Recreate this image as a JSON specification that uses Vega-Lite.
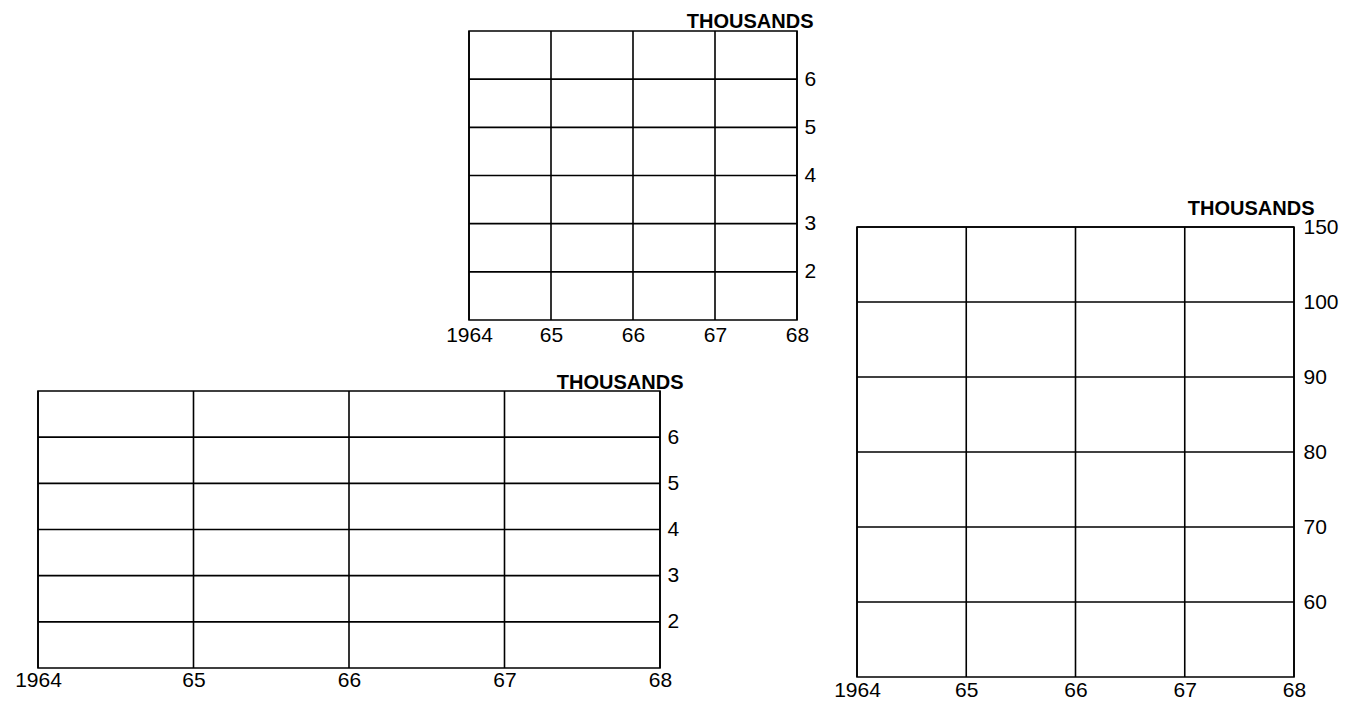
{
  "$schema": "https://vega.github.io/schema/vega-lite/v6.json",
  "background": "white",
  "padding": {"left": 13, "top": 10, "right": 5, "bottom": 0},
  "datasets": {
    "years": [{"year": 1964}, {"year": 1965}, {"year": 1966}, {"year": 1967}, {"year": 1968}],
    "small": [{"value": 2}, {"value": 3}, {"value": 4}, {"value": 5}, {"value": 6}],
    "large": [{"value": 60}, {"value": 70}, {"value": 80}, {"value": 90}, {"value": 100}, {"value": 150}]
  },
  "config": {
    "font": "Liberation Sans",
    "view": {"stroke": null},
    "axis": {"labelColor": "black", "titleColor": "black", "labelFontSize": 21, "labelFont": "Liberation Sans", "titleFont": "Liberation Sans", "labelFlush": false, "labelOverlap": false}
  },
  "spacing": 15,
  "hconcat": [
    {
      "spacing": 1,
      "vconcat": [
        {
          "spacing": 0,
          "hconcat": [
            {"width": 406, "height": 339, "data": {"values": []}, "mark": "point"},
            {
              "width": 328,
              "height": 289,
              "view": {"stroke": "black", "strokeWidth": 1.6},
              "layer": [
                {
                  "data": {"name": "years"},
                  "mark": {"type": "rule", "color": "black", "strokeWidth": 1.6},
                  "encoding": {
                    "x": {"field": "year", "type": "quantitative", "scale": {"domain": [1964, 1968], "nice": false, "zero": false},
                      "axis": {"values": [1964, 1965, 1966, 1967, 1968], "grid": false, "domain": false, "ticks": false, "labelPadding": 4, "title": null,
                        "labelExpr": "datum.value == 1964 ? '1964' : format(datum.value - 1900, 'd')"}}
                  }
                },
                {
                  "data": {"name": "small"},
                  "mark": {"type": "rule", "color": "black", "strokeWidth": 1.6},
                  "encoding": {
                    "y": {"field": "value", "type": "quantitative", "scale": {"domain": [1, 7], "nice": false, "zero": false},
                      "axis": {"orient": "right", "values": [2, 3, 4, 5, 6], "grid": false, "domain": false, "ticks": false, "labelPadding": 7,
                        "title": "THOUSANDS", "titleAngle": 0, "titleAlign": "right", "titleBaseline": "alphabetic", "titleX": 16, "titleY": -4,
                        "titleFontSize": 20, "titleFontWeight": "bold"}}
                  }
                }
              ]
            }
          ]
        },
        {
          "width": 622,
          "height": 277,
          "view": {"stroke": "black", "strokeWidth": 1.6},
          "layer": [
            {
              "data": {"name": "years"},
              "mark": {"type": "rule", "color": "black", "strokeWidth": 1.6},
              "encoding": {
                "x": {"field": "year", "type": "quantitative", "scale": {"domain": [1964, 1968], "nice": false, "zero": false},
                  "axis": {"values": [1964, 1965, 1966, 1967, 1968], "grid": false, "domain": false, "ticks": false, "labelPadding": 1, "title": null,
                    "labelExpr": "datum.value == 1964 ? '1964' : format(datum.value - 1900, 'd')"}}
              }
            },
            {
              "data": {"name": "small"},
              "mark": {"type": "rule", "color": "black", "strokeWidth": 1.6},
              "encoding": {
                "y": {"field": "value", "type": "quantitative", "scale": {"domain": [1, 7], "nice": false, "zero": false},
                  "axis": {"orient": "right", "values": [2, 3, 4, 5, 6], "grid": false, "domain": false, "ticks": false, "labelPadding": 7,
                    "title": "THOUSANDS", "titleAngle": 0, "titleAlign": "right", "titleBaseline": "alphabetic", "titleX": 23, "titleY": -3,
                    "titleFontSize": 20, "titleFontWeight": "bold"}}
              }
            }
          ]
        }
      ]
    },
    {
      "spacing": 0,
      "vconcat": [
        {"width": 10, "height": 166, "data": {"values": []}, "mark": "point"},
        {
          "width": 437,
          "height": 450,
          "view": {"stroke": "black", "strokeWidth": 1.6},
          "layer": [
            {
              "data": {"name": "years"},
              "mark": {"type": "rule", "color": "black", "strokeWidth": 1.6},
              "encoding": {
                "x": {"field": "year", "type": "quantitative", "scale": {"domain": [1964, 1968], "nice": false, "zero": false},
                  "axis": {"values": [1964, 1965, 1966, 1967, 1968], "grid": false, "domain": false, "ticks": false, "labelPadding": 2, "title": null,
                    "labelExpr": "datum.value == 1964 ? '1964' : format(datum.value - 1900, 'd')"}}
              }
            },
            {
              "data": {"name": "large"},
              "mark": {"type": "rule", "color": "black", "strokeWidth": 1.6},
              "encoding": {
                "y": {"field": "value", "type": "quantitative", "scale": {"domain": [50, 100, 150], "range": [450, 75, 0], "nice": false, "zero": false},
                  "axis": {"orient": "right", "values": [60, 70, 80, 90, 100, 150], "grid": false, "domain": false, "ticks": false, "labelPadding": 9,
                    "title": "THOUSANDS", "titleAngle": 0, "titleAlign": "right", "titleBaseline": "alphabetic", "titleX": 20, "titleY": -13,
                    "titleFontSize": 20, "titleFontWeight": "bold"}}
              }
            }
          ]
        }
      ]
    }
  ]
}
